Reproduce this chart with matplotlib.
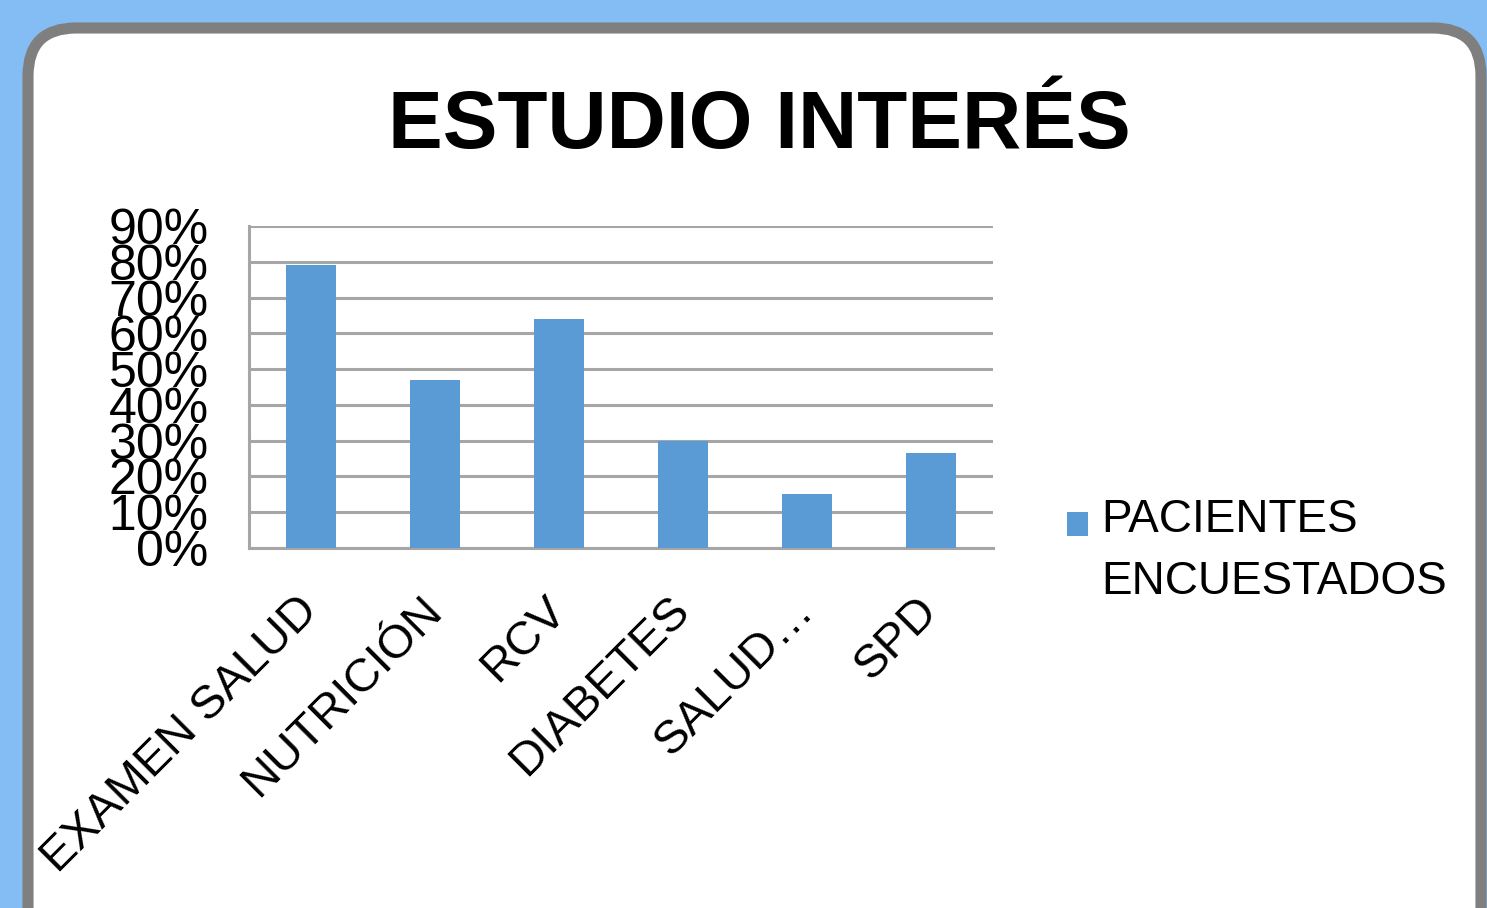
import matplotlib
matplotlib.use("Agg")
import matplotlib.pyplot as plt
from matplotlib import font_manager
from matplotlib.patches import FancyBboxPatch
from matplotlib.transforms import IdentityTransform

# data
categories = ["EXAMEN SALUD", "NUTRICIÓN", "RCV", "DIABETES", "SALUD…", "SPD"]
values = [0.79, 0.47, 0.64, 0.30, 0.15, 0.265]
series_name = "PACIENTES\nENCUESTADOS"
y_ticks = [0.0, 0.1, 0.2, 0.3, 0.4, 0.5, 0.6, 0.7, 0.8, 0.9]
y_tick_labels = ["0%", "10%", "20%", "30%", "40%", "50%", "60%", "70%", "80%", "90%"]

plt.rcParams['font.family'] = ['Liberation Sans', 'DejaVu Sans']

# the y tick labels in the reference look condensed
try:
    font_manager.findfont("Liberation Sans Narrow", fallback_to_default=False)
    tick_family = ['Liberation Sans Narrow', 'Liberation Sans', 'DejaVu Sans']
    tick_size = 39
except ValueError:
    tick_family = ['Liberation Sans', 'DejaVu Sans']
    tick_size = 36

W, H = 1487, 908
fig = plt.figure(figsize=(W / 100, H / 100), dpi=100)
fig.patch.set_facecolor("#84bcf4")

# white rounded card with grey border (pixel coordinates, origin bottom-left)
card = FancyBboxPatch((28, -80), 1453, H - 28 + 80,
                      boxstyle="round,pad=0,rounding_size=48",
                      facecolor="white", edgecolor="#7f7f7f", linewidth=8,
                      transform=IdentityTransform(), zorder=-10)
fig.patches.append(card)

fig.text(759 / W, 1 - 148 / H, "ESTUDIO INTERÉS", ha="center", va="baseline",
         fontsize=59, fontweight="bold", color="black")

ax = fig.add_axes([249 / W, 1 - 548 / H, 744 / W, 322 / H])
ax.set_zorder(5)
ax.set_facecolor("none")
x = list(range(len(categories)))
bars = ax.bar(x, values, width=0.4, color="#5b9bd5", label=series_name, zorder=3)

ax.set_xlim(-0.5, len(categories) - 0.5)
ax.set_ylim(0, 0.9)
ax.set_yticks(y_ticks)
ax.set_yticklabels(y_tick_labels, fontsize=tick_size, family=tick_family)
ax.yaxis.grid(True, color="#a6a6a6", linewidth=2.2, zorder=1)
ax.set_axisbelow(True)

ax.set_xticks(x)
ax.set_xticklabels(categories, fontsize=34, rotation=45, ha="right",
                   va="center", rotation_mode="anchor")
ax.tick_params(axis="y", length=0, pad=29)
ax.tick_params(axis="x", length=0, pad=40)

for side in ["top", "right"]:
    ax.spines[side].set_visible(False)
for side in ["left", "bottom"]:
    ax.spines[side].set_color("#a6a6a6")
    ax.spines[side].set_linewidth(2.2)

leg = ax.legend(loc="center left", bbox_to_anchor=(1044 / W, 1 - 551 / H),
                bbox_transform=fig.transFigure, frameon=False, fontsize=33,
                handlelength=0.45, handleheight=0.45, handletextpad=0.3,
                borderpad=0, labelspacing=0.2)
for t in leg.get_texts():
    t.set_linespacing(1.5)
# put the square next to the first line, as in the reference
for h in leg.legend_handles:
    h.set_y(h.get_y() + 20)

fig.savefig("out.png", dpi=100, facecolor=fig.get_facecolor())
